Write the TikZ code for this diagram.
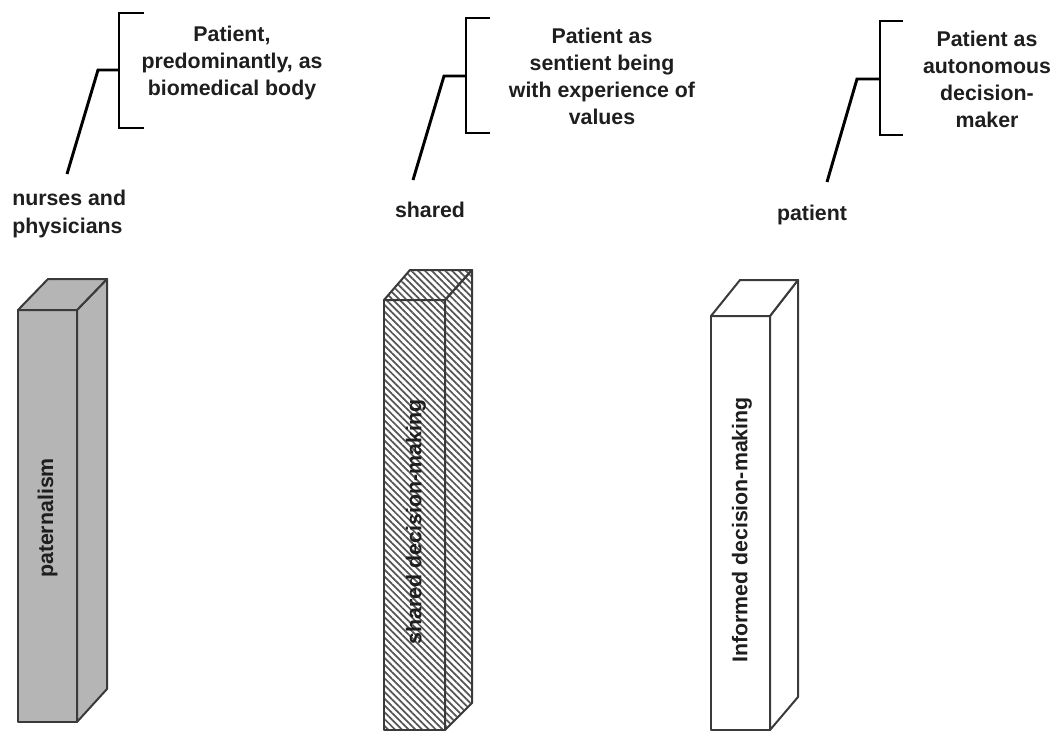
\documentclass[tikz,border=0pt]{standalone}
\usepackage{fontspec}
\setmainfont{Liberation Sans}
\usetikzlibrary{patterns.meta}
\definecolor{boxgray}{HTML}{B5B5B5}
\definecolor{edgecol}{HTML}{3A3A3A}
\definecolor{txtcol}{HTML}{1E1E1E}
\definecolor{hatchcol}{HTML}{555555}
\begin{document}
\begin{tikzpicture}[x=0.75pt,y=-0.75pt,
  toplabel/.style={align=center,text=txtcol,font=\bfseries\fontsize{16}{20.25}\selectfont,inner sep=0pt},
  sidelabel/.style={text=txtcol,font=\bfseries\fontsize{16}{21}\selectfont,inner sep=0pt},
  boxlabel/.style={rotate=90,text=txtcol,font=\bfseries\fontsize{16}{19}\selectfont,inner sep=0pt},
  bracketline/.style={line width=2.2pt,draw=black,line cap=butt,line join=miter},
  boxedge/.style={line width=1.5pt,draw=edgecol,line join=round},
  grayface/.style={boxedge,fill=boxgray},
  hatchface/.style={boxedge,fill=white,pattern={Lines[angle=-45,distance=3.6pt,line width=1.3pt]},pattern color=hatchcol},
  whiteface/.style={boxedge,fill=white}]
\path[use as bounding box] (0,0) rectangle (1057,735);

% ---------- labels ----------
\node[toplabel] (t1) at (232,63) {Patient,\\predominantly, as\\biomedical body};
\node[toplabel] (t2) at (602,76) {Patient as\\sentient being\\with experience of\\values};
\node[toplabel] (t3) at (987,79) {Patient as\\autonomous\\decision-\\maker};
\node[sidelabel,align=left,anchor=west] (l1) at (12,214) {nurses and\\physicians};
\node[sidelabel] (l2) at (430,210) {shared};
\node[sidelabel] (l3) at (812,215) {patient};

% ---------- brackets ----------
\coordinate (b1top) at (144,13);   \coordinate (b1bot) at (144,128);
\coordinate (b1stub) at (98,70);   \coordinate (b1end) at (67,174);
\draw[bracketline] (b1top) -| (119,128) -- (b1bot);
\draw[bracketline] (b1end) -- (b1stub) -- (119,70);

\coordinate (b2top) at (490,18);   \coordinate (b2bot) at (490,133);
\coordinate (b2stub) at (444,76);  \coordinate (b2end) at (413,180);
\draw[bracketline] (b2top) -| (466,133) -- (b2bot);
\draw[bracketline] (b2end) -- (b2stub) -- (466,76);

\coordinate (b3top) at (903,21);   \coordinate (b3bot) at (903,135);
\coordinate (b3stub) at (857,79);  \coordinate (b3end) at (827,182);
\draw[bracketline] (b3top) -| (880,135) -- (b3bot);
\draw[bracketline] (b3end) -- (b3stub) -- (880,79);

% ---------- box 1: paternalism ----------
\path[grayface] (18,310) rectangle (77,722);
\path[grayface] (77,310) -- (107,279) -- (107,689) -- (77,722) -- cycle;
\path[grayface] (18,310) -- (48,279) -- (107,279) -- (77,310) -- cycle;
\node[boxlabel] (p1) at (47.5,518) {paternalism};

% ---------- box 2: shared decision-making ----------
\path[hatchface] (384,300) rectangle (445,730);
\path[hatchface] (445,300) -- (472,270) -- (472,703) -- (445,730) -- cycle;
\path[hatchface] (384,300) -- (410,270) -- (472,270) -- (445,300) -- cycle;
\node[boxlabel] (p2) at (416,522) {shared decision-making};

% ---------- box 3: informed decision-making ----------
\path[whiteface] (711,316) rectangle (770,730);
\path[whiteface] (770,316) -- (798,280) -- (798,697) -- (770,730) -- cycle;
\path[whiteface] (711,316) -- (740,280) -- (798,280) -- (770,316) -- cycle;
\node[boxlabel] (p3) at (742,530) {Informed decision-making};
\end{tikzpicture}
\end{document}
